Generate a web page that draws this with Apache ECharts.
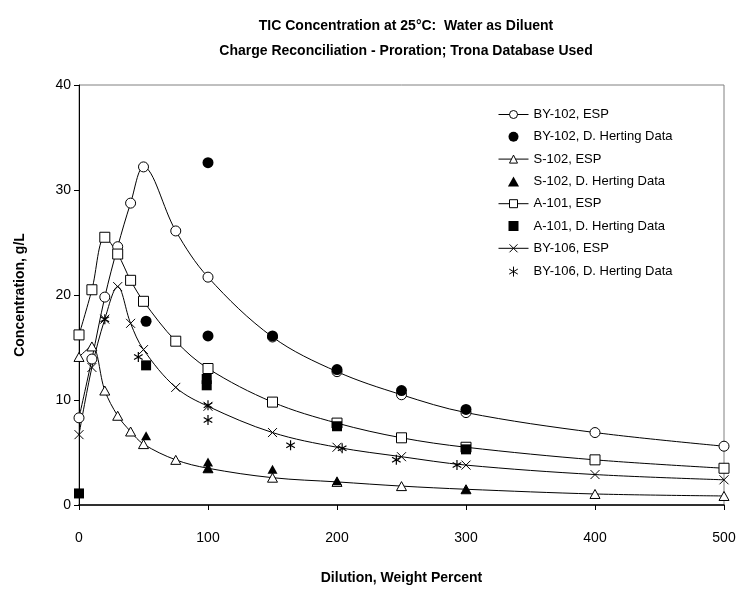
<!DOCTYPE html>
<html>
<head>
<meta charset="utf-8">
<script src="https://cdn.jsdelivr.net/npm/echarts@6/dist/echarts.min.js"></script>
<style>
html,body{margin:0;padding:0;background:#fff;}
#chart{width:744px;height:590px;}
</style>
</head>
<body>
<div id="chart"></div>
<script>
// ---- data ----
var titleLines = ['TIC Concentration at 25\u00B0C:  Water as Diluent', 'Charge Reconciliation - Proration; Trona Database Used'];
var xAxisTitle = 'Dilution, Weight Percent';
var yAxisTitle = 'Concentration, g/L';
var seriesNames = ['BY-102, ESP', 'BY-102, D. Herting Data', 'S-102, ESP', 'S-102, D. Herting Data',
                   'A-101, ESP', 'A-101, D. Herting Data', 'BY-106, ESP', 'BY-106, D. Herting Data'];

var espX = [0, 10, 20, 30, 40, 50, 75, 100, 150, 200, 250, 300, 400, 500];
var by102Esp = [8.3, 13.9, 19.8, 24.6, 28.75, 32.2, 26.1, 21.7, 16.0, 12.7, 10.5, 8.8, 6.9, 5.6];
var s102Esp  = [14.1, 15.1, 10.9, 8.5, 7.0, 5.8, 4.3, 3.5, 2.6, 2.2, 1.8, 1.5, 1.05, 0.86];
var a101Esp  = [16.2, 20.5, 25.5, 23.9, 21.4, 19.4, 15.6, 13.0, 9.8, 7.8, 6.4, 5.5, 4.3, 3.5];
var by106Esp = [6.7, 13.1, 17.7, 20.8, 17.3, 14.8, 11.2, 9.4, 6.9, 5.5, 4.6, 3.8, 2.9, 2.4];

var by102HX = [52, 100, 100, 150, 200, 250, 300];
var by102HY = [17.5, 32.6, 16.1, 16.1, 12.9, 10.9, 9.1];
var s102HX  = [52, 100, 100, 150, 200, 300];
var s102HY  = [6.6, 4.1, 3.5, 3.4, 2.3, 1.5];
var a101HX  = [0, 52, 99, 99, 200, 300];
var a101HY  = [1.1, 13.3, 12.0, 11.4, 7.5, 5.3];
var by106HX = [20, 46, 100, 100, 164, 204, 246, 293];
var by106HY = [17.7, 14.1, 9.5, 8.1, 5.7, 5.4, 4.3, 3.8];

var xMin = 0, xMax = 500, xStep = 100;
var yMin = 0, yMax = 40, yStep = 10;

// ---- build ----
function pairs(xs, ys) { return xs.map(function (x, i) { return [x, ys[i]]; }); }
var FONT = '"Liberation Sans", Arial, sans-serif';
var circlePath = 'path://M0,5A5,5 0 1,1 10,5A5,5 0 1,1 0,5Z';
var crossPath = 'path://M0,0L10,10M10,0L0,10';
var starPath = 'path://M5,0L5,10M0.7,2.5L9.3,7.5M0.7,7.5L9.3,2.5';
var triPath = 'path://M5,0L10,9L0,9Z';
var rectPath = 'path://M0,0L10,0L10,10L0,10Z';

function espSeries(name, ys, symbol, size, fill) {
  return {
    name: name, type: 'line', data: pairs(espX, ys), smooth: 0.35,
    symbol: symbol, symbolSize: size, showAllSymbol: true, symbolKeepAspect: true,
    lineStyle: { color: '#000', width: 1 },
    itemStyle: { color: fill, borderColor: '#000', borderWidth: 1, opacity: 1 },
    emphasis: { disabled: true }, z: 2
  };
}
function hSeries(name, xs, ys, symbol, size, stroke) {
  return {
    name: name, type: 'scatter', data: pairs(xs, ys),
    symbol: symbol, symbolSize: size, symbolKeepAspect: true,
    itemStyle: stroke ? { color: 'none', borderColor: '#000', borderWidth: 1.2, opacity: 1 } : { color: '#000', opacity: 1 },
    emphasis: { disabled: true }, z: 3
  };
}

var chart = echarts.init(document.getElementById('chart'), null, { renderer: 'canvas' });
chart.setOption({
  animation: false,
  backgroundColor: '#fff',
  textStyle: { fontFamily: FONT },
  title: {
    text: titleLines.join('\n'),
    left: 401, top: 9, textAlign: 'center',
    textStyle: { fontFamily: FONT, fontSize: 14, fontWeight: 'bold', color: '#000', lineHeight: 25 }
  },
  legend: {
    orient: 'vertical', left: 493, top: 103,
    itemWidth: 30, itemHeight: 10, itemGap: 9.3, symbolKeepAspect: true,
    lineStyle: { width: 1 },
    itemStyle: { borderWidth: 1 },
    textStyle: { fontFamily: FONT, fontSize: 13, color: '#000' },
    data: seriesNames
  },
  grid: { left: 79, right: 20, top: 85, bottom: 85, show: true, borderColor: '#808080', borderWidth: 1, containLabel: false },
  xAxis: {
    type: 'value', min: xMin, max: xMax, interval: xStep,
    name: xAxisTitle, nameLocation: 'middle', nameGap: 66,
    nameTextStyle: { fontFamily: FONT, fontSize: 14, fontWeight: 'bold', color: '#000' },
    axisLine: { show: true, lineStyle: { color: '#000', width: 1.5 } },
    axisTick: { show: true, inside: false, length: 5, lineStyle: { color: '#000' } },
    axisLabel: { fontFamily: FONT, fontSize: 14, color: '#000', margin: 26 },
    splitLine: { show: false }
  },
  yAxis: {
    type: 'value', min: yMin, max: yMax, interval: yStep,
    name: yAxisTitle, nameLocation: 'middle', nameGap: 52,
    nameTextStyle: { fontFamily: FONT, fontSize: 14, fontWeight: 'bold', color: '#000' },
    axisLine: { show: true, lineStyle: { color: '#000', width: 1 } },
    axisTick: { show: true, inside: false, length: 5, lineStyle: { color: '#000' } },
    axisLabel: { fontFamily: FONT, fontSize: 14, color: '#000', margin: 8 },
    splitLine: { show: false }
  },
  series: [
    espSeries(seriesNames[0], by102Esp, circlePath, 10, '#fff'),
    hSeries(seriesNames[1], by102HX, by102HY, 'circle', 11, false),
    espSeries(seriesNames[2], s102Esp, triPath, 10, '#fff'),
    hSeries(seriesNames[3], s102HX, s102HY, triPath, 10, false),
    espSeries(seriesNames[4], a101Esp, rectPath, 10, '#fff'),
    hSeries(seriesNames[5], a101HX, a101HY, rectPath, 10, false),
    espSeries(seriesNames[6], by106Esp, crossPath, 9, 'none'),
    hSeries(seriesNames[7], by106HX, by106HY, starPath, 10, true)
  ]
});
</script>
</body>
</html>
